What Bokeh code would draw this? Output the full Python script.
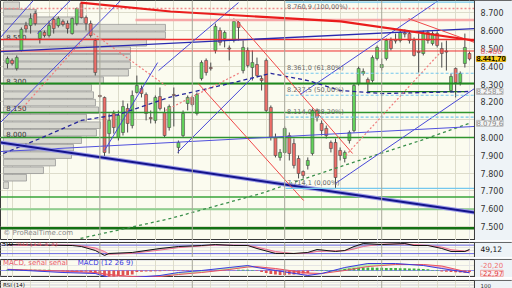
import numpy as np
from bokeh.plotting import figure
from bokeh.layouts import column
from bokeh.models import Range1d, FixedTicker, Span, Grid
from bokeh.embed import file_html
from bokeh.resources import INLINE
from bokeh.core.properties import value

FONT = "DejaVu Sans"
FONT2 = "Liberation Sans"

# ---------------- price data (daily candles, points) ----------------
opens = [8416, 8433, 8388, 8489, 8630, 8629, 8697, 8556, 8590, 8573, 8663, 8629, 8652, 8640, 8584, 8640, 8753, 8674, 8640, 8545,
         8236, 8225, 8022, 8135, 8000, 8028, 8163, 8067, 8253, 8275, 8242, 8112, 8096, 8230, 8140, 8056, 8242, 7944, 8011, 8191,
         8225, 8135, 8331, 8433, 8393, 8489, 8601, 8556, 8503, 8545, 8646, 8376, 8489, 8393, 8410, 8331, 8433, 8169, 8000, 7888,
         7916, 8011, 7966, 7882, 7809, 7843, 7910, 8152, 8079, 8051, 7972, 7972, 7927, 7882, 7983, 8039, 8303, 8360, 8326, 8320,
         8444, 8393, 8444, 8545, 8548, 8545, 8587, 8584, 8545, 8483, 8472, 8590, 8528, 8584, 8500, 8486, 8264, 8388, 8309, 8416, 8472]
highs = [8455, 8444, 8461, 8618, 8650, 8697, 8713, 8601, 8601, 8657, 8674, 8680, 8663, 8657, 8674, 8730, 8758, 8685, 8657, 8556,
         8240, 8230, 8135, 8152, 8152, 8208, 8191, 8264, 8348, 8292, 8253, 8152, 8236, 8281, 8169, 8185, 8281, 7983, 8152, 8236,
         8236, 8253, 8433, 8444, 8421, 8640, 8618, 8601, 8517, 8669, 8657, 8545, 8506, 8489, 8449, 8348, 8444, 8180, 8022, 7935,
         8062, 8028, 7994, 7899, 7815, 7888, 8163, 8163, 8096, 8067, 7983, 7994, 7944, 7927, 8039, 8303, 8399, 8388, 8337, 8461,
         8517, 8444, 8556, 8562, 8584, 8607, 8607, 8596, 8562, 8584, 8601, 8601, 8596, 8596, 8534, 8545, 8360, 8393, 8371, 8584, 8483]
lows = [8388, 8405, 8376, 8483, 8590, 8584, 8629, 8528, 8562, 8562, 8584, 8618, 8624, 8584, 8578, 8629, 8669, 8601, 8562, 8348,
        8225, 7888, 7910, 8022, 7983, 8011, 8028, 8051, 8247, 8225, 8096, 8079, 8079, 8152, 8000, 8039, 8062, 7910, 8000, 8152,
        8174, 8124, 8320, 8348, 8376, 8472, 8517, 8506, 8433, 8534, 8545, 8360, 8393, 8320, 8337, 8264, 8140, 7983, 7888, 7870,
        7910, 7871, 7826, 7770, 7770, 7820, 7899, 8090, 8011, 7994, 7916, 7714, 7871, 7860, 7966, 8028, 8292, 8348, 8247, 8309,
        8433, 8376, 8433, 8489, 8528, 8534, 8562, 8528, 8455, 8365, 8461, 8528, 8517, 8506, 8393, 8376, 8253, 8225, 8292, 8393, 8433]
closes = [8444, 8416, 8449, 8607, 8610, 8669, 8640, 8596, 8573, 8629, 8612, 8669, 8635, 8612, 8669, 8725, 8674, 8640, 8573, 8365,
          8230, 7916, 8096, 8056, 8124, 8174, 8079, 8236, 8292, 8247, 8135, 8107, 8225, 8163, 8011, 8174, 8236, 7972, 8135, 8225,
          8185, 8242, 8421, 8365, 8388, 8624, 8534, 8590, 8497, 8652, 8618, 8506, 8404, 8421, 8348, 8320, 8152, 8000, 7899, 7916,
          8051, 7910, 7843, 7798, 7787, 7871, 8152, 8112, 8039, 8011, 7938, 7775, 7899, 7916, 8028, 8292, 8388, 8371, 8303, 8449,
          8506, 8410, 8545, 8500, 8543, 8590, 8582, 8545, 8461, 8478, 8584, 8545, 8584, 8517, 8472, 8480, 8343, 8309, 8360, 8506, 8441.7]

# volume-by-price profile
vp_price = [8743, 8701, 8659, 8617, 8575, 8532, 8490, 8448, 8406, 8364, 8322, 8280, 8238,
            8196, 8153, 8111, 8069, 8027, 7985, 7943, 7901, 7859, 7816, 7774, 7732]
vp_volume = [16, 33, 80, 162, 162, 143, 127, 127, 127, 125, 100, 88, 90,
             92, 95, 83, 97, 93, 78, 70, 68, 52, 40, 23, 5]
vp_labels = ["8.550", "8.300", "8.150", "8.000"]
vp_label_price = [8550, 8300, 8150, 8000]

# horizontal levels
red_levels = [8551, 8486]
green_levels = [8303, 8140, 8000, 7665, 7490]
lightgreen_level = 7597
pink_band_level = 8660
pink_band_start = 27.7
pink_dotted_level = 8725
green_short = dict(i0=77.9, i1=99.1, p=8258)

# trend lines (candle index, price)
red_thick_i = [15.8, 35.3, 72.1, 101.08]
red_thick_p = [8758, 8708, 8652, 8545]
red_thin = dict(i0=[49.6, 41.3, 86.8], p0=[8657, 8303, 8668], i1=[74.7, 64.1, 101.08], p1=[7910, 7646, 8534])
navy_thick = dict(i0=[-1.52], p0=[7972], i1=[101.08], p1=[7579])
blue_long = dict(i0=[-1.52, -1.52], p0=[7921, 8483], i1=[101.08, 101.08], p1=[8062, 8612])
blue_chan = dict(i0=[-1.52, -1.52, 6.5, 21.0, 32.7, 36.8, 63.4, 71.0],
                 p0=[8084, 8562, 8584, 7927, 8376, 7916, 8242, 7742],
                 i1=[24.5, 5.6, 13.6, 32.5, 50.0, 53.0, 93.3, 101.08],
                 p1=[8770, 8770, 8770, 8421, 8758, 8337, 8770, 8275])
pink_dot = dict(i0=[2.8, 18.6, 73.2, 34.2], p0=[8152, 8584, 7899, 8152],
                i1=[17.5, 34.2, 93.7, 50.4], p1=[8584, 8292, 8478, 8365])

# moving averages
ma_blue_i = [-0.9, 7, 16, 24, 35, 49, 57, 65, 72, 81, 91, 100]
ma_blue_p = [7910, 7994, 8096, 8129, 8225, 8309, 8360, 8320, 8264, 8247, 8253, 8258.5]
ma_green_i = [15.8, 35.3, 54.8, 72.1, 89.4, 100]
ma_green_p = [7433, 7545, 7685, 7837, 7983, 8079.6]

# Fibonacci retracement
fib_start = 60.2
fib_pct = [0.0, 38.2, 50.0, 61.8, 100.0]
fib_price = [7714.1, 8114.0, 8237.5, 8361.0, 8760.9]

# grid / months
month_starts = [20, 40, 60, 81]
vgrid = [1, 5, 9, 13, 17, 24, 28, 32, 36, 44, 48, 52, 56, 64, 68, 72, 76, 85, 89, 93, 97]
price_ticks = list(range(7500, 8800, 100))

# right-hand price markers
mark_price = [8486, 8441.7, 8258.5, 8079.6]
mark_text = ["8.486", "8.441,70", "8.258,5", "8.079,6"]

# stochastic
stoch_i = [0, 14, 16, 19, 21, 22, 27, 33, 37, 42, 45, 49, 52, 54, 58, 62, 65, 67, 71, 73, 75, 77, 81, 86, 88, 91, 94, 96, 99, 100]
stoch_k = [84, 77, 70, 42, 7, 21, 28, 56, 70, 77, 84, 77, 77, 56, 21, 21, 28, 49, 35, 42, 70, 91, 84, 91, 77, 77, 56, 35, 35, 49.12]
stoch_d = [80, 80, 75, 60, 35, 15, 22, 45, 62, 74, 80, 80, 78, 66, 35, 20, 24, 35, 40, 40, 52, 70, 87, 88, 84, 78, 66, 48, 38, 40]

# MACD (12 26 9)
macd_i = [0, 12, 19, 22, 27, 33, 37, 42, 48, 52, 54, 58, 65, 68, 73, 78, 84, 90, 94, 100]
macd_v = [10, -20, -30, -70, -70, -50, -20, 0, 30, 50, 30, 0, -50, -30, 30, 70, 70, 50, 20, -22.97]
signal_v = [12, -5, -20, -40, -60, -60, -40, -20, 10, 35, 38, 20, -25, -30, 0, 40, 60, 60, 45, -20.2]
macd_hist = [8, 8, 8, 8, 8, 8, 8, 8, 8, 8,
             0, 0,
             -8, -10, -10, -12, -12, -10, -15,
             -30, -45, -55, -60, -60, -55, -50, -45, -40,
             -15, -12, -10, -10, -8, -8, -6, -6, -5, -5, -5, -4,
             -3, -3, -3, -3, -3, -3, -3, -3, -3, -3,
             8, 8, 8, 6,
             -5, -15,
             -25, -35, -40, -45, -45, -40, -40, -35, -30, -25,
             -5, 5, 5, 5, 5, 5, 8,
             15, 20, 25, 28, 30, 30, 30, 28, 28, 25, 25, 25, 22, 22, 20, 20, 18, 15, 12,
             5, 5,
             -10, -12, -15, -18, -20, -22, -15]

# ---------------- figures ----------------
BG = "#fbfbef"
AXBG = "#eef3f7"
CHART_END = 101.08        # right edge of the chart area (candle index)
XMAX = 109.31             # right edge of the price-scale strip
LABEL_X = 102.4           # where scale texts start
MARK_X = 101.5
xr = Range1d(-1.515, XMAX)


def make_fig(h, yr, top):
    p = figure(width=512, height=h, x_range=xr, y_range=yr, toolbar_location=None,
               output_backend="svg", min_border=0, min_border_left=0, min_border_right=0,
               min_border_top=top, min_border_bottom=0, x_axis_location=None, y_axis_location=None,
               background_fill_color=BG, border_fill_color="#f6f8fa", outline_line_color="#3a3a3a")
    p.add_layout(Grid(dimension=0, ticker=FixedTicker(ticks=vgrid), grid_line_color="#dddccb"))
    for m in month_starts:
        p.add_layout(Span(location=m, dimension="height", line_color="#a9a99a", line_width=1))
    return p


def scale_strip(fig, yr):
    fig.quad(left=[CHART_END], right=[XMAX], bottom=[yr.start], top=[yr.end], fill_color=AXBG, line_color=None)
    fig.segment([CHART_END], [yr.start], [CHART_END], [yr.end], line_color="#3a3a3a", line_width=1)


def scale_text(fig, yv, txt, color, bg=None, border=None, bold=False, x=MARK_X, size="7.5px", font=FONT):
    fig.text(x=[x], y=[yv], text=[txt], text_font=value(font), text_font_size=size, text_color=color,
             text_baseline="middle", text_font_style="bold" if bold else "normal",
             background_fill_color=bg, border_line_color=border)


main_yr = Range1d(7421.3, 8769.7)
p = make_fig(240, main_yr, 0)
p.add_layout(Grid(dimension=1, ticker=FixedTicker(ticks=price_ticks), grid_line_color="#dddccb"))

idx = np.arange(len(opens))
o = np.array(opens, float)
c = np.array(closes, float)
# volume profile
vp_left = -0.87
p.hbar(y=vp_price, left=vp_left, right=vp_left + np.array(vp_volume) / 4.62, height=37,
       fill_color="#d8d8d0", line_color="#8e8e8e", line_width=0.7)
p.text(x=[-0.25] * len(vp_labels), y=vp_label_price, text=vp_labels, text_font=value(FONT),
       text_font_size="7px", text_color="#333333", text_baseline="bottom")

# candles
top = np.maximum(o, c)
bot = np.minimum(o, c)
bot = np.where(top - bot < 6, top - 6, bot)
cols = ["#62d35a" if cc >= oo else "#ee6e68" for oo, cc in zip(o, c)]
p.segment(idx, highs, idx, lows, line_color="#4a4a4a", line_width=1)
p.vbar(x=idx, top=top, bottom=bot, width=0.64, fill_color=cols, line_color="#4a4a4a", line_width=0.6)

# horizontal levels
x0, x1 = xr.start, CHART_END
p.segment([x0], [pink_dotted_level], [x1], [pink_dotted_level], line_color="#f08c8c", line_dash="2 2", line_width=1.5)
p.segment([pink_band_start], [pink_band_level], [x1], [pink_band_level], line_color="#f6a8a8", line_width=2.5)
p.segment([x0] * 2, red_levels, [x1] * 2, red_levels, line_color="#ee2e2e", line_width=[1.6, 1.0])
p.segment([x0] * len(green_levels), green_levels, [x1] * len(green_levels), green_levels,
          line_color=["#1f8a1f", "#2f952f", "#2f952f", "#3aa53a", "#137013"], line_width=[2, 1.5, 1.5, 1.5, 2.5])
p.segment([x0], [lightgreen_level], [x1], [lightgreen_level], line_color="#8fcf8f", line_width=2.2)
p.segment([green_short["i0"]], [green_short["p"]], [green_short["i1"]], [green_short["p"]], line_color="#1f7a1f", line_width=1.3)

# moving averages
p.line(ma_green_i, ma_green_p, line_color="#3a8f4a", line_dash="3 3", line_width=1.3)
p.line(ma_blue_i, ma_blue_p, line_color="#24249a", line_dash="4 3", line_width=1.3)

# trend lines
p.segment(pink_dot["i0"], pink_dot["p0"], pink_dot["i1"], pink_dot["p1"], line_color="#f07c7c", line_dash="2 2", line_width=1.2)
p.segment(blue_chan["i0"], blue_chan["p0"], blue_chan["i1"], blue_chan["p1"], line_color="#4848d8", line_width=1)
p.segment(blue_long["i0"], blue_long["p0"], blue_long["i1"], blue_long["p1"], line_color=["#5050dd", "#2a2ab0"], line_width=[1, 1.3])
p.segment(navy_thick["i0"], navy_thick["p0"], navy_thick["i1"], navy_thick["p1"], line_color="#9a9ae8", line_width=4)
p.segment(navy_thick["i0"], navy_thick["p0"], navy_thick["i1"], navy_thick["p1"], line_color="#14148c", line_width=2)
p.segment(red_thin["i0"], red_thin["p0"], red_thin["i1"], red_thin["p1"], line_color="#f04848", line_width=1)
p.line(red_thick_i, red_thick_p, line_color="#ea1c1c", line_width=2.2)

# Fibonacci
fib_dash = ["solid" if v in (0.0, 100.0) else "3 2" for v in fib_pct]
for fp, fd in zip(fib_price, fib_dash):
    p.segment([fib_start], [fp], [x1], [fp], line_color="#74c8ee", line_width=1.2, line_dash=fd)


def eu(v, d):
    s = f"{v:,.{d}f}"
    return s.replace(",", "X").replace(".", ",").replace("X", ".")


fib_text = [f"{eu(fp, 1)} ({eu(v, 2)}%)" for fp, v in zip(fib_price, fib_pct)]
fib_base = ["top" if v == 100.0 else "bottom" for v in fib_pct]
for ft, fp, fb in zip(fib_text, fib_price, fib_base):
    p.text(x=[fib_start + 0.3], y=[fp + (6 if fb == "bottom" else -4)], text=[ft], text_font=value(FONT),
           text_font_size="6.5px", text_color="#6a6a6a", text_baseline=fb)

p.text(x=[-0.9], y=[7466], text=["© ProRealTime.com"], text_font=value(FONT), text_font_size="7px",
       text_color="#8a8a8a", text_baseline="middle")

# price scale strip
scale_strip(p, main_yr)
tick_txt = [eu(t, 0) for t in price_ticks]
p.text(x=[LABEL_X] * len(price_ticks), y=price_ticks, text=tick_txt, text_font=value(FONT),
       text_font_size="8px", text_color="#333333", text_baseline="middle")
scale_text(p, mark_price[0], mark_text[0], "#f07070", x=LABEL_X)
scale_text(p, mark_price[2], mark_text[2], "#8a8a8a", bg="#f4f4f4", border="#c0c0c0", size="7px")
scale_text(p, mark_price[3], mark_text[3], "#8a8a8a", bg="#f4f4f4", border="#c0c0c0", size="7px")
scale_text(p, mark_price[1], mark_text[1], "#000000", bg="#ffd21a", border="#d0a000", bold=True, size="7.5px", font=FONT2)

# ---------------- stochastic ----------------
st_yr = Range1d(-7.5, 98.4)
ps = make_fig(17, st_yr, 2)
sk = np.array(stoch_k, float)
sd = np.array(stoch_d, float)
ps.varea(x=stoch_i, y1=sk, y2=np.maximum(sk, sd), fill_color="#f4b0c0", fill_alpha=0.8)
ps.varea(x=stoch_i, y1=np.minimum(sk, sd), y2=sk, fill_color="#b8b8c4", fill_alpha=0.8)
ps.segment([x0, x0], [20, 80], [x1, x1], [20, 80], line_color="#6a6ae6", line_width=1)
ps.line(stoch_i, stoch_d, line_color="#ee7090", line_width=1)
ps.line(stoch_i, stoch_k, line_color="#111111", line_width=1)
ps.text(x=[-1.3], y=[90], text=["Sto"], text_font=value(FONT), text_font_size="7px", text_color="#111111", text_baseline="middle")
ps.text(x=[1.8], y=[90], text=["%D (14 3 3)"], text_font=value(FONT), text_font_size="7px", text_color="#e85a6a", text_baseline="middle")
scale_strip(ps, st_yr)
scale_text(ps, 49.12, "49,12", "#111111", x=LABEL_X)

# ---------------- MACD ----------------
mc_yr = Range1d(-70, 110)
pm = make_fig(20, mc_yr, 2)
mv = np.array(macd_v, float)
sv = np.array(signal_v, float)
pm.varea(x=macd_i, y1=mv, y2=np.maximum(mv, sv), fill_color="#f4a8b8", fill_alpha=0.8)
pm.varea(x=macd_i, y1=np.minimum(mv, sv), y2=mv, fill_color="#b0e6a0", fill_alpha=0.8)
pm.segment([x0], [0], [x1], [0], line_color="#8c8cf0", line_width=1)
hist_cols = ["#3cb043" if h >= 0 else "#e05050" for h in macd_hist]
pm.vbar(x=idx, top=np.maximum(macd_hist, 0), bottom=np.minimum(macd_hist, 0), width=0.6, fill_color=hist_cols, line_color=None)
pm.line(macd_i, signal_v, line_color="#e85060", line_width=1)
pm.line(macd_i, macd_v, line_color="#3a3ae0", line_width=1)
pm.text(x=[-1.0], y=[72], text=["MACD, señal señal"], text_font=value(FONT), text_font_size="7px", text_color="#e85a6a", text_baseline="middle")
pm.text(x=[15.2], y=[72], text=["MACD (12 26 9)"], text_font=value(FONT), text_font_size="7px", text_color="#3a3ae0", text_baseline="middle")
scale_strip(pm, mc_yr)
scale_text(pm, 55, "-20,20", "#f07070", x=LABEL_X, size="7px")
scale_text(pm, -28, "-22,97", "#e04040", bg="#fbeef0", border="#f0a0a0", x=LABEL_X, size="7px")

# ---------------- RSI (top strip) ----------------
rs_yr = Range1d(0, 100)
pr = make_fig(11, rs_yr, 2)
pr.text(x=[-1.0], y=[50], text=["RSI (14)"], text_font=value(FONT), text_font_size="5.5px", text_color="#111111", text_baseline="middle")
scale_strip(pr, rs_yr)
scale_text(pr, 50, "100", "#333333", x=LABEL_X, size="5.5px")

layout = column(p, ps, pm, pr, spacing=0)
open("out.html", "w").write(file_html(layout, INLINE))
